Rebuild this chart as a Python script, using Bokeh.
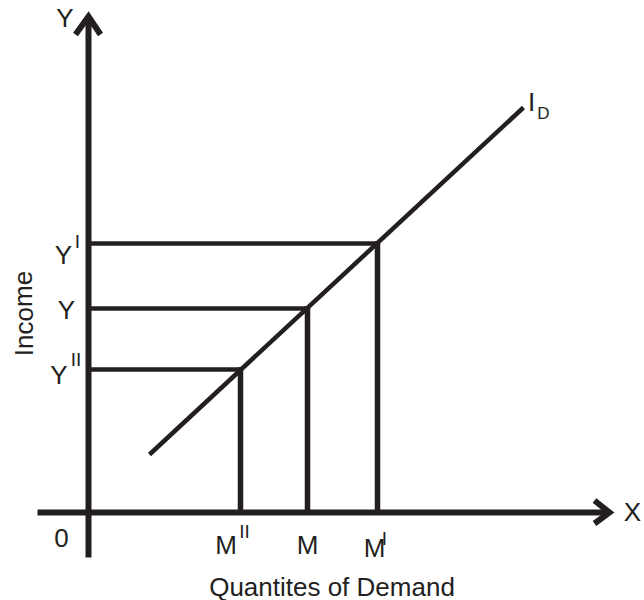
from bokeh.plotting import figure
from bokeh.models import Range1d, ColumnDataSource
from bokeh.core.properties import value
from bokeh.embed import file_html
from bokeh.resources import INLINE

# ---- data (diagram units, origin at the axes' crossing) ----
quantity_names = ["M", "M", "M"]
quantity_marks = ["II", "", "I"]          # M'', M, M'
quantities = [152, 219, 289]

income_names = ["Y", "Y", "Y"]
income_marks = ["II", "", "I"]            # Y'', Y, Y'
incomes = [143, 204, 269]

demand_x = [61, 435]                       # income-demand line I_D
demand_y = [58, 405]

x_axis_extent = [-51, 521]
y_axis_extent = [-45, 496]

INK = "#231f20"
FONT = value("Liberation Sans")
SHIFT = 9  # baseline correction

p = figure(width=644, height=600, x_range=Range1d(-88, 556), y_range=Range1d(-88, 512),
           output_backend="svg", toolbar_location=None, min_border=0)
p.axis.visible = False
p.grid.visible = False
p.outline_line_color = None
p.background_fill_color = "white"
p.border_fill_color = "white"

# axes
p.line(x=x_axis_extent, y=[0, 0], line_width=6, line_color=INK)
p.line(x=[0, 0], y=y_axis_extent, line_width=6, line_color=INK)
# arrow heads
p.line(x=[x_axis_extent[1] - 15, x_axis_extent[1], x_axis_extent[1] - 15], y=[12, 0, -11],
       line_width=6, line_color=INK, line_join="miter")
p.line(x=[-13, 0, 12], y=[y_axis_extent[1] - 18, y_axis_extent[1], y_axis_extent[1] - 18],
       line_width=6, line_color=INK, line_join="miter")

# guide lines
p.segment(x0=[0] * 3, y0=incomes, x1=quantities, y1=incomes, line_width=4.5, line_color=INK)
p.segment(x0=quantities, y0=[0] * 3, x1=quantities, y1=[v + 2.2 for v in incomes],
          line_width=5.5, line_color=INK)

# demand line
p.line(x=demand_x, y=demand_y, line_width=4.5, line_color=INK)

def txt(x, y, t, size, angle=0.0):
    if angle:
        src = ColumnDataSource(dict(x=[v - SHIFT for v in x], y=y, t=t))
    else:
        src = ColumnDataSource(dict(x=x, y=[v + SHIFT for v in y], t=t))
    p.text(x="x", y="y", text="t", source=src, text_font=FONT, text_font_size=size,
           text_color=INK, text_align="center", text_baseline="alphabetic", angle=angle)

# axis letters and origin
txt([-23.5], [486], ["Y"], "26px")
txt([544], [-8], ["X"], "26px")
txt([-27], [-34], ["0"], "26px")

# income labels
inc_dx = [-29.5, -22, -25]
inc_dy = [-14, -10, -20]
txt(inc_dx, [v + d for v, d in zip(incomes, inc_dy)], income_names, "26px")
sup_x = [-12.5, -11]
sup_y = [incomes[0] + 1, incomes[2] - 7]
txt(sup_x, sup_y, [income_marks[0], income_marks[2]], "19px")

# quantity labels
q_dx = [-14.5, 0, -3]
q_y = [-41, -41, -44]
txt([q + d for q, d in zip(quantities, q_dx)], q_y, quantity_names, "26px")
txt([quantities[0] + 4, quantities[2] + 7], [-28, -35],
    [quantity_marks[0], quantity_marks[2]], "19px")

# I_D label
txt([demand_x[1] + 8], [demand_y[1] - 3], ["I"], "26px")
txt([demand_x[1] + 20], [demand_y[1] - 15], ["D"], "17px")

# axis titles
txt([243.5], [-83], ["Quantites of Demand"], "26px")
txt([-56], [199], ["Income"], "26px", angle=1.5708)

open("out.html", "w").write(file_html(p, INLINE))
